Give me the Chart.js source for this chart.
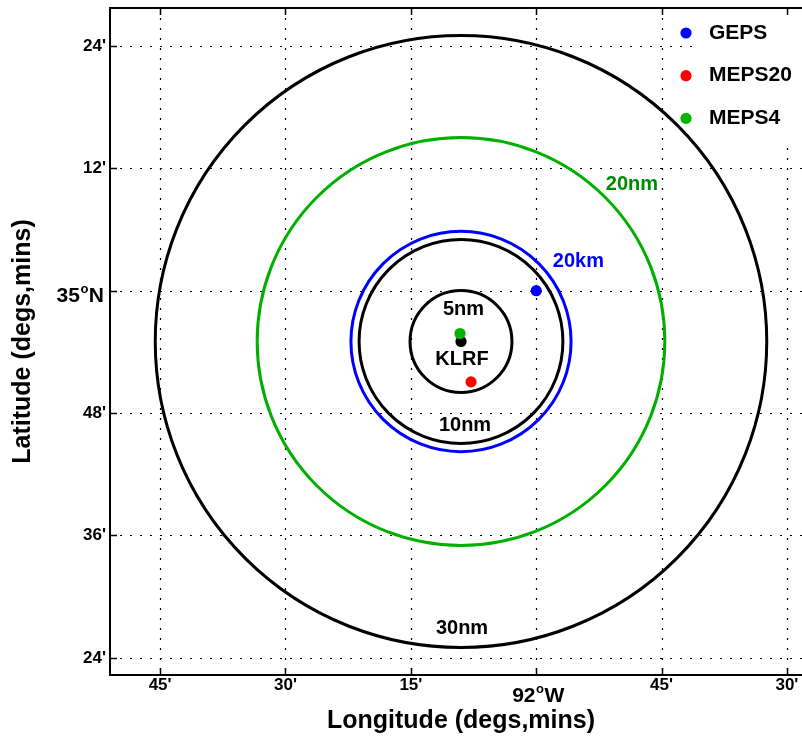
<!DOCTYPE html>
<html>
<head>
<meta charset="utf-8">
<script src="https://cdn.jsdelivr.net/npm/chart.js@4.4.0/dist/chart.umd.min.js"></script>
<style>
  html, body { margin: 0; padding: 0; background: #fff; overflow: hidden; }
  #wrap { width: 802px; height: 740px; overflow: hidden; }
</style>
</head>
<body>
<div id="wrap"><canvas id="map" width="830" height="740"></canvas></div>
<script>
// axis ticks (degrees) and how they are labelled
var lonTicks = [-92.75, -92.5, -92.25, -92.0, -91.75, -91.5];
var lonLabels = ["45'", "30'", "15'", "92°W", "45'", "30'"];
var latTicks = [34.4, 34.6, 34.8, 35.0, 35.2, 35.4];
var latLabels = ["24'", "36'", "48'", "35°N", "12'", "24'"];

// nearest model grid points
var siteNames = ["GEPS", "MEPS20", "MEPS4"];
var siteLon = [-92.0, -92.13, -92.152];
var siteLat = [35.0, 34.851, 34.930];
var siteColors = ["#0000ff", "#ff0000", "#00b400"];

// the airfield
var klrfLon = -92.15;
var klrfLat = 34.917;

// range rings around KLRF (radius in nautical miles, 20 km = 10.8 nm)
var ringRadiusNm = [5, 10, 10.8, 20, 30];
var ringColors = ["#000000", "#000000", "#0000ff", "#00b000", "#000000"];

// text on the map
var noteText = ["5nm", "KLRF", "10nm", "20km", "20nm", "30nm"];
var noteLon = [-92.145, -92.148, -92.142, -91.916, -91.809, -92.148];
var noteLat = [34.969, 34.888, 34.780, 35.048, 35.174, 34.448];
var noteColors = ["#000000", "#000000", "#000000", "#0000ff", "#008a00", "#000000"];

var FONT = '"Liberation Sans", Arial, sans-serif';

function isDeg(label) { return label.indexOf('°') >= 0; }

// whole-degree labels get a raised "o" like the original
function drawDegLabel(ctx, label, x, baseline, align) {
    var parts = label.split('°');
    ctx.font = 'bold 21px ' + FONT;
    var w1 = ctx.measureText(parts[0]).width;
    var w3 = ctx.measureText(parts[1]).width;
    ctx.font = 'bold 13px ' + FONT;
    var w2 = ctx.measureText('o').width + 1;
    var total = w1 + w2 + w3;
    var left = align === 'center' ? x - total / 2 : x - total;
    ctx.textAlign = 'left';
    ctx.textBaseline = 'alphabetic';
    ctx.fillStyle = '#000';
    ctx.font = 'bold 21px ' + FONT;
    ctx.fillText(parts[0], left, baseline);
    ctx.fillText(parts[1], left + w1 + w2, baseline);
    ctx.font = 'bold 13px ' + FONT;
    ctx.fillText('o', left + w1 + 0.5, baseline - 9);
}

var mapDecor = {
    id: 'mapDecor',
    beforeDatasetsDraw: function(chart) {
        var ctx = chart.ctx, a = chart.chartArea;
        var xs = chart.scales.x, ys = chart.scales.y;
        ctx.save();
        // dotted grid
        ctx.strokeStyle = '#000';
        ctx.lineWidth = 1.2;
        ctx.setLineDash([2, 8]);
        lonTicks.forEach(function(v) {
            var px = Math.round(xs.getPixelForValue(v)) + 0.5;
            ctx.beginPath(); ctx.moveTo(px, a.top); ctx.lineTo(px, a.bottom); ctx.stroke();
        });
        latTicks.forEach(function(v) {
            var py = Math.round(ys.getPixelForValue(v)) + 0.5;
            ctx.beginPath(); ctx.moveTo(a.left, py); ctx.lineTo(a.right, py); ctx.stroke();
        });
        ctx.setLineDash([]);
        // rings
        var cx = xs.getPixelForValue(klrfLon), cy = ys.getPixelForValue(klrfLat);
        ringRadiusNm.forEach(function(r, i) {
            var dLat = r / 60;
            var dLon = r / (60 * Math.cos(klrfLat * Math.PI / 180));
            var rx = Math.abs(xs.getPixelForValue(klrfLon + dLon) - cx);
            var ry = Math.abs(ys.getPixelForValue(klrfLat + dLat) - cy);
            ctx.beginPath();
            ctx.ellipse(cx, cy, rx, ry, 0, 0, 2 * Math.PI);
            ctx.strokeStyle = ringColors[i];
            ctx.lineWidth = 3;
            ctx.stroke();
        });
        ctx.restore();
    },
    afterDatasetsDraw: function(chart) {
        var ctx = chart.ctx, a = chart.chartArea;
        var xs = chart.scales.x, ys = chart.scales.y;
        ctx.save();
        // labels on the map
        ctx.font = 'bold 20px ' + FONT;
        ctx.textAlign = 'center';
        ctx.textBaseline = 'middle';
        noteText.forEach(function(t, i) {
            ctx.fillStyle = noteColors[i];
            ctx.fillText(t, xs.getPixelForValue(noteLon[i]), ys.getPixelForValue(noteLat[i]));
        });
        // legend box
        ctx.fillStyle = '#fff';
        ctx.fillRect(697, a.top + 2, a.right - 697, 130);
        // frame
        ctx.strokeStyle = '#000';
        ctx.lineWidth = 2;
        ctx.strokeRect(a.left, a.top, a.right - a.left, a.bottom - a.top);
        // inward tick marks
        ctx.lineWidth = 1.5;
        lonTicks.forEach(function(v) {
            var px = Math.round(xs.getPixelForValue(v)) + 0.5;
            ctx.beginPath();
            ctx.moveTo(px, a.bottom); ctx.lineTo(px, a.bottom - 7);
            ctx.moveTo(px, a.top); ctx.lineTo(px, a.top + 7);
            ctx.stroke();
        });
        latTicks.forEach(function(v) {
            var py = Math.round(ys.getPixelForValue(v)) + 0.5;
            ctx.beginPath();
            ctx.moveTo(a.left, py); ctx.lineTo(a.left + 7, py);
            ctx.moveTo(a.right, py); ctx.lineTo(a.right - 7, py);
            ctx.stroke();
        });
        // degree tick labels
        lonLabels.forEach(function(l, i) {
            if (isDeg(l)) drawDegLabel(ctx, l, xs.getPixelForValue(lonTicks[i]) + 2, a.bottom + 27, 'center');
        });
        latLabels.forEach(function(l, i) {
            if (isDeg(l)) drawDegLabel(ctx, l, a.left - 6, ys.getPixelForValue(latTicks[i]) + 11, 'right');
        });
        // legend
        ctx.font = 'bold 21px ' + FONT;
        ctx.textAlign = 'left';
        ctx.textBaseline = 'middle';
        siteNames.forEach(function(n, i) {
            var y = 33 + i * 42.7;
            ctx.fillStyle = siteColors[i];
            ctx.beginPath(); ctx.arc(686, y, 5.6, 0, 2 * Math.PI); ctx.fill();
            ctx.fillStyle = '#000';
            ctx.fillText(n, 709, y);
        });
        ctx.restore();
    }
};

var datasets = siteNames.map(function(n, i) {
    return {
        label: n,
        data: [{x: siteLon[i], y: siteLat[i]}],
        backgroundColor: siteColors[i],
        borderWidth: 0,
        pointRadius: 5.6
    };
});
datasets.push({
    label: 'KLRF',
    data: [{x: klrfLon, y: klrfLat}],
    backgroundColor: '#000000',
    borderWidth: 0,
    pointRadius: 5.6
});

var ctx = document.getElementById('map');
var myChart = new Chart(ctx, {
    type: 'scatter',
    data: {datasets: datasets},
    options: {
        responsive: false,
        animation: false,
        devicePixelRatio: 1,
        layout: {padding: {left: 0, top: 8, right: 18, bottom: 0}},
        plugins: {
            legend: {display: false},
            tooltip: {enabled: false}
        },
        scales: {
            x: {
                type: 'linear',
                min: -92.85,
                max: -91.45,
                afterBuildTicks: function(s) { s.ticks = lonTicks.map(function(v) { return {value: v}; }); },
                afterFit: function(s) { s.height = 65; s.paddingLeft = 0; s.paddingRight = 0; },
                grid: {display: false, drawTicks: false},
                border: {display: false},
                ticks: {
                    autoSkip: false,
                    maxRotation: 0,
                    padding: 0,
                    color: '#000',
                    font: {family: FONT, size: 17, weight: 'bold'},
                    callback: function(v, i) { return isDeg(lonLabels[i]) ? '' : lonLabels[i]; }
                },
                title: {
                    display: true,
                    text: 'Longitude (degs,mins)',
                    color: '#000',
                    font: {family: FONT, size: 25, weight: 'bold'},
                    padding: {top: 0, bottom: 4}
                }
            },
            y: {
                type: 'linear',
                min: 34.372,
                max: 35.462,
                afterBuildTicks: function(s) { s.ticks = latTicks.map(function(v) { return {value: v}; }); },
                afterFit: function(s) { s.width = 110; s.paddingTop = 0; s.paddingBottom = 0; },
                grid: {display: false, drawTicks: false},
                border: {display: false},
                ticks: {
                    autoSkip: false,
                    padding: 4,
                    color: '#000',
                    font: {family: FONT, size: 17, weight: 'bold'},
                    callback: function(v, i) { return isDeg(latLabels[i]) ? '' : latLabels[i]; }
                },
                title: {
                    display: true,
                    text: 'Latitude (degs,mins)',
                    color: '#000',
                    font: {family: FONT, size: 25, weight: 'bold'},
                    padding: {top: 8, bottom: 0}
                }
            }
        }
    },
    plugins: [mapDecor]
});
</script>
</body>
</html>
